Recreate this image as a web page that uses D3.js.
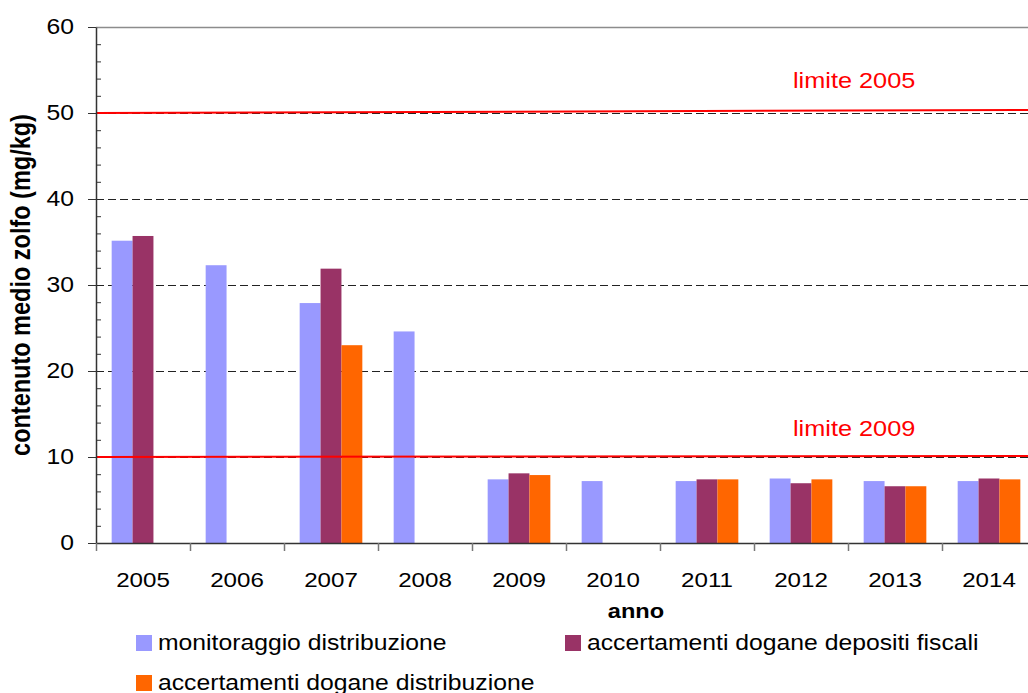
<!DOCTYPE html>
<html>
<head>
<meta charset="utf-8">
<script src="https://cdn.jsdelivr.net/npm/d3@7"></script>
<style>
  body { margin: 0; background: #fff; }
  svg { display: block; font-family: "Liberation Sans", Arial, sans-serif; }
</style>
</head>
<body>
<div id="chart"></div>
<script>
// values
var years = ["2005", "2006", "2007", "2008", "2009", "2010", "2011", "2012", "2013", "2014"];
var monitoraggio = [35.15, 32.3, 27.9, 24.6, 7.4, 7.2, 7.2, 7.5, 7.2, 7.2];
var depositiFiscali = [35.7, null, 31.9, null, 8.1, null, 7.4, 6.95, 6.6, 7.5];
var doganeDistribuzione = [null, null, 23.0, null, 7.9, null, 7.4, 7.4, 6.6, 7.4];

var seriesNames = ["monitoraggio distribuzione", "accertamenti dogane depositi fiscali", "accertamenti dogane distribuzione"];
var seriesColors = ["#9999ff", "#993366", "#ff6600"];

var limitValues = [50, 10];
var limitLabels = ["limite 2005", "limite 2009"];

var yTicks = [0, 10, 20, 30, 40, 50, 60];

(function () {
    var width = 1028, height = 693;
    var left = 96, right = 1036, top = 27, bottom = 543;
    var stretch = 1.15; // the original text is a bit wide

    var svg = d3.select("#chart")
                .append("svg")
                .attr("width", width)
                .attr("height", height);

    var x = d3.scaleBand()
              .domain(years)
              .range([left, right]);

    var bw = x.bandwidth();
    var xSub = d3.scaleBand()
                 .domain(d3.range(seriesNames.length))
                 .range([bw / 6, bw * 5 / 6]);

    var xEdge = d3.scaleLinear()
                  .domain([0, years.length])
                  .range([left, right]);

    var y = d3.scaleLinear()
              .domain([0, 60])
              .range([bottom, top]);

    // gridlines
    svg.append("g")
        .selectAll("line")
        .data(yTicks.filter(function (d) { return d > 0; }))
        .enter()
        .append("line")
        .attr("x1", left)
        .attr("x2", right)
        .attr("y1", function (d) { return y(d) + 0.5; })
        .attr("y2", function (d) { return y(d) + 0.5; })
        .attr("stroke", function (d) { return d === 60 ? "#8c8c8c" : "#222"; })
        .attr("stroke-width", function (d) { return d === 60 ? 1.5 : 1; })
        .attr("stroke-dasharray", function (d) { return d === 60 ? null : "8,4"; });

    // bars
    var rows = [monitoraggio, depositiFiscali, doganeDistribuzione];
    var bars = [];
    rows.forEach(function (vals, s) {
        vals.forEach(function (v, i) {
            if (v !== null) bars.push({ year: years[i], s: s, v: v });
        });
    });

    svg.append("g")
        .selectAll("rect")
        .data(bars)
        .enter()
        .append("rect")
        .attr("x", function (d) { return x(d.year) + xSub(d.s); })
        .attr("y", function (d) { return y(d.v); })
        .attr("width", xSub.bandwidth())
        .attr("height", function (d) { return y(0) - y(d.v); })
        .style("fill", function (d) { return seriesColors[d.s]; });

    // limit lines
    svg.append("g")
        .selectAll("line")
        .data(limitValues)
        .enter()
        .append("line")
        .attr("x1", left)
        .attr("x2", right)
        .attr("y1", function (d) { return y(d); })
        .attr("y2", function (d, i) { return y(d) - (i === 0 ? 3 : 1); })
        .attr("stroke", "#ff0000")
        .attr("stroke-width", 2);

    svg.append("g")
        .selectAll("text")
        .data(limitValues)
        .enter()
        .append("text")
        .text(function (d, i) { return limitLabels[i]; })
        .attr("transform", function (d, i) {
            return "translate(793," + (y(d) - (i === 0 ? 25 : 21)) + ") scale(" + stretch + ",1)";
        })
        .style("fill", "#ff0000")
        .style("font-size", "22px");

    // y axis (major ticks outside, minor ticks inside)
    var yAxis = svg.append("g")
        .attr("transform", "translate(" + left + ",0)")
        .call(d3.axisLeft(y).tickValues(yTicks).tickSize(8).tickSizeOuter(0));
    yAxis.select(".domain").attr("stroke", "#333").attr("stroke-width", 1.5);
    yAxis.selectAll(".tick line").attr("stroke", "#333");
    yAxis.selectAll(".tick text")
        .attr("x", -22 / stretch)
        .attr("transform", "scale(" + stretch + ",1)")
        .style("font-size", "21.5px")
        .style("font-family", "Liberation Sans, Arial, sans-serif")
        .style("fill", "#000");

    var minor = d3.range(0, 61, 2).filter(function (d) { return d % 10 !== 0; });
    var yMinor = svg.append("g")
        .attr("transform", "translate(" + left + ",0)")
        .call(d3.axisRight(y).tickValues(minor).tickSize(5).tickFormat(""));
    yMinor.select(".domain").remove();
    yMinor.selectAll(".tick line").attr("stroke", "#333");

    // x axis
    var xAxis = svg.append("g")
        .attr("transform", "translate(0," + bottom + ")")
        .call(d3.axisBottom(x).tickSize(0));
    xAxis.select(".domain").attr("stroke", "#333").attr("stroke-width", 1.5);
    xAxis.selectAll(".tick text")
        .attr("y", 44)
        .attr("dy", null)
        .attr("transform", "scale(" + stretch + ",1)")
        .style("font-size", "21px")
        .style("font-family", "Liberation Sans, Arial, sans-serif")
        .style("fill", "#000");

    var xTicks = svg.append("g")
        .attr("transform", "translate(0," + bottom + ")")
        .call(d3.axisBottom(xEdge).tickValues(d3.range(0, years.length + 1)).tickSize(8).tickFormat(""));
    xTicks.select(".domain").remove();
    xTicks.selectAll(".tick line").attr("stroke", "#777").attr("stroke-width", 1.5);

    // axis titles
    svg.append("text")
        .text("anno")
        .attr("transform", "translate(636,618) scale(" + stretch + ",1)")
        .style("text-anchor", "middle")
        .style("font-weight", "bold")
        .style("font-size", "20.5px");

    svg.append("text")
        .text("contenuto medio zolfo (mg/kg)")
        .attr("transform", "translate(30,285) scale(" + stretch + ",1) rotate(-90)")
        .style("text-anchor", "middle")
        .style("font-weight", "bold")
        .style("font-size", "23.5px");

    // legend
    var legendPos = [[136, 635], [565, 635], [136, 675]];
    var legend = svg.append("g")
        .selectAll("g")
        .data(seriesNames)
        .enter()
        .append("g")
        .attr("transform", function (d, i) { return "translate(" + legendPos[i][0] + "," + legendPos[i][1] + ")"; });

    legend.append("rect")
        .attr("width", 16)
        .attr("height", 16)
        .style("fill", function (d, i) { return seriesColors[i]; });

    legend.append("text")
        .text(function (d) { return d; })
        .attr("transform", "translate(22,14.5) scale(" + stretch + ",1)")
        .style("font-size", "21.5px");
})();
</script>
</body>
</html>
